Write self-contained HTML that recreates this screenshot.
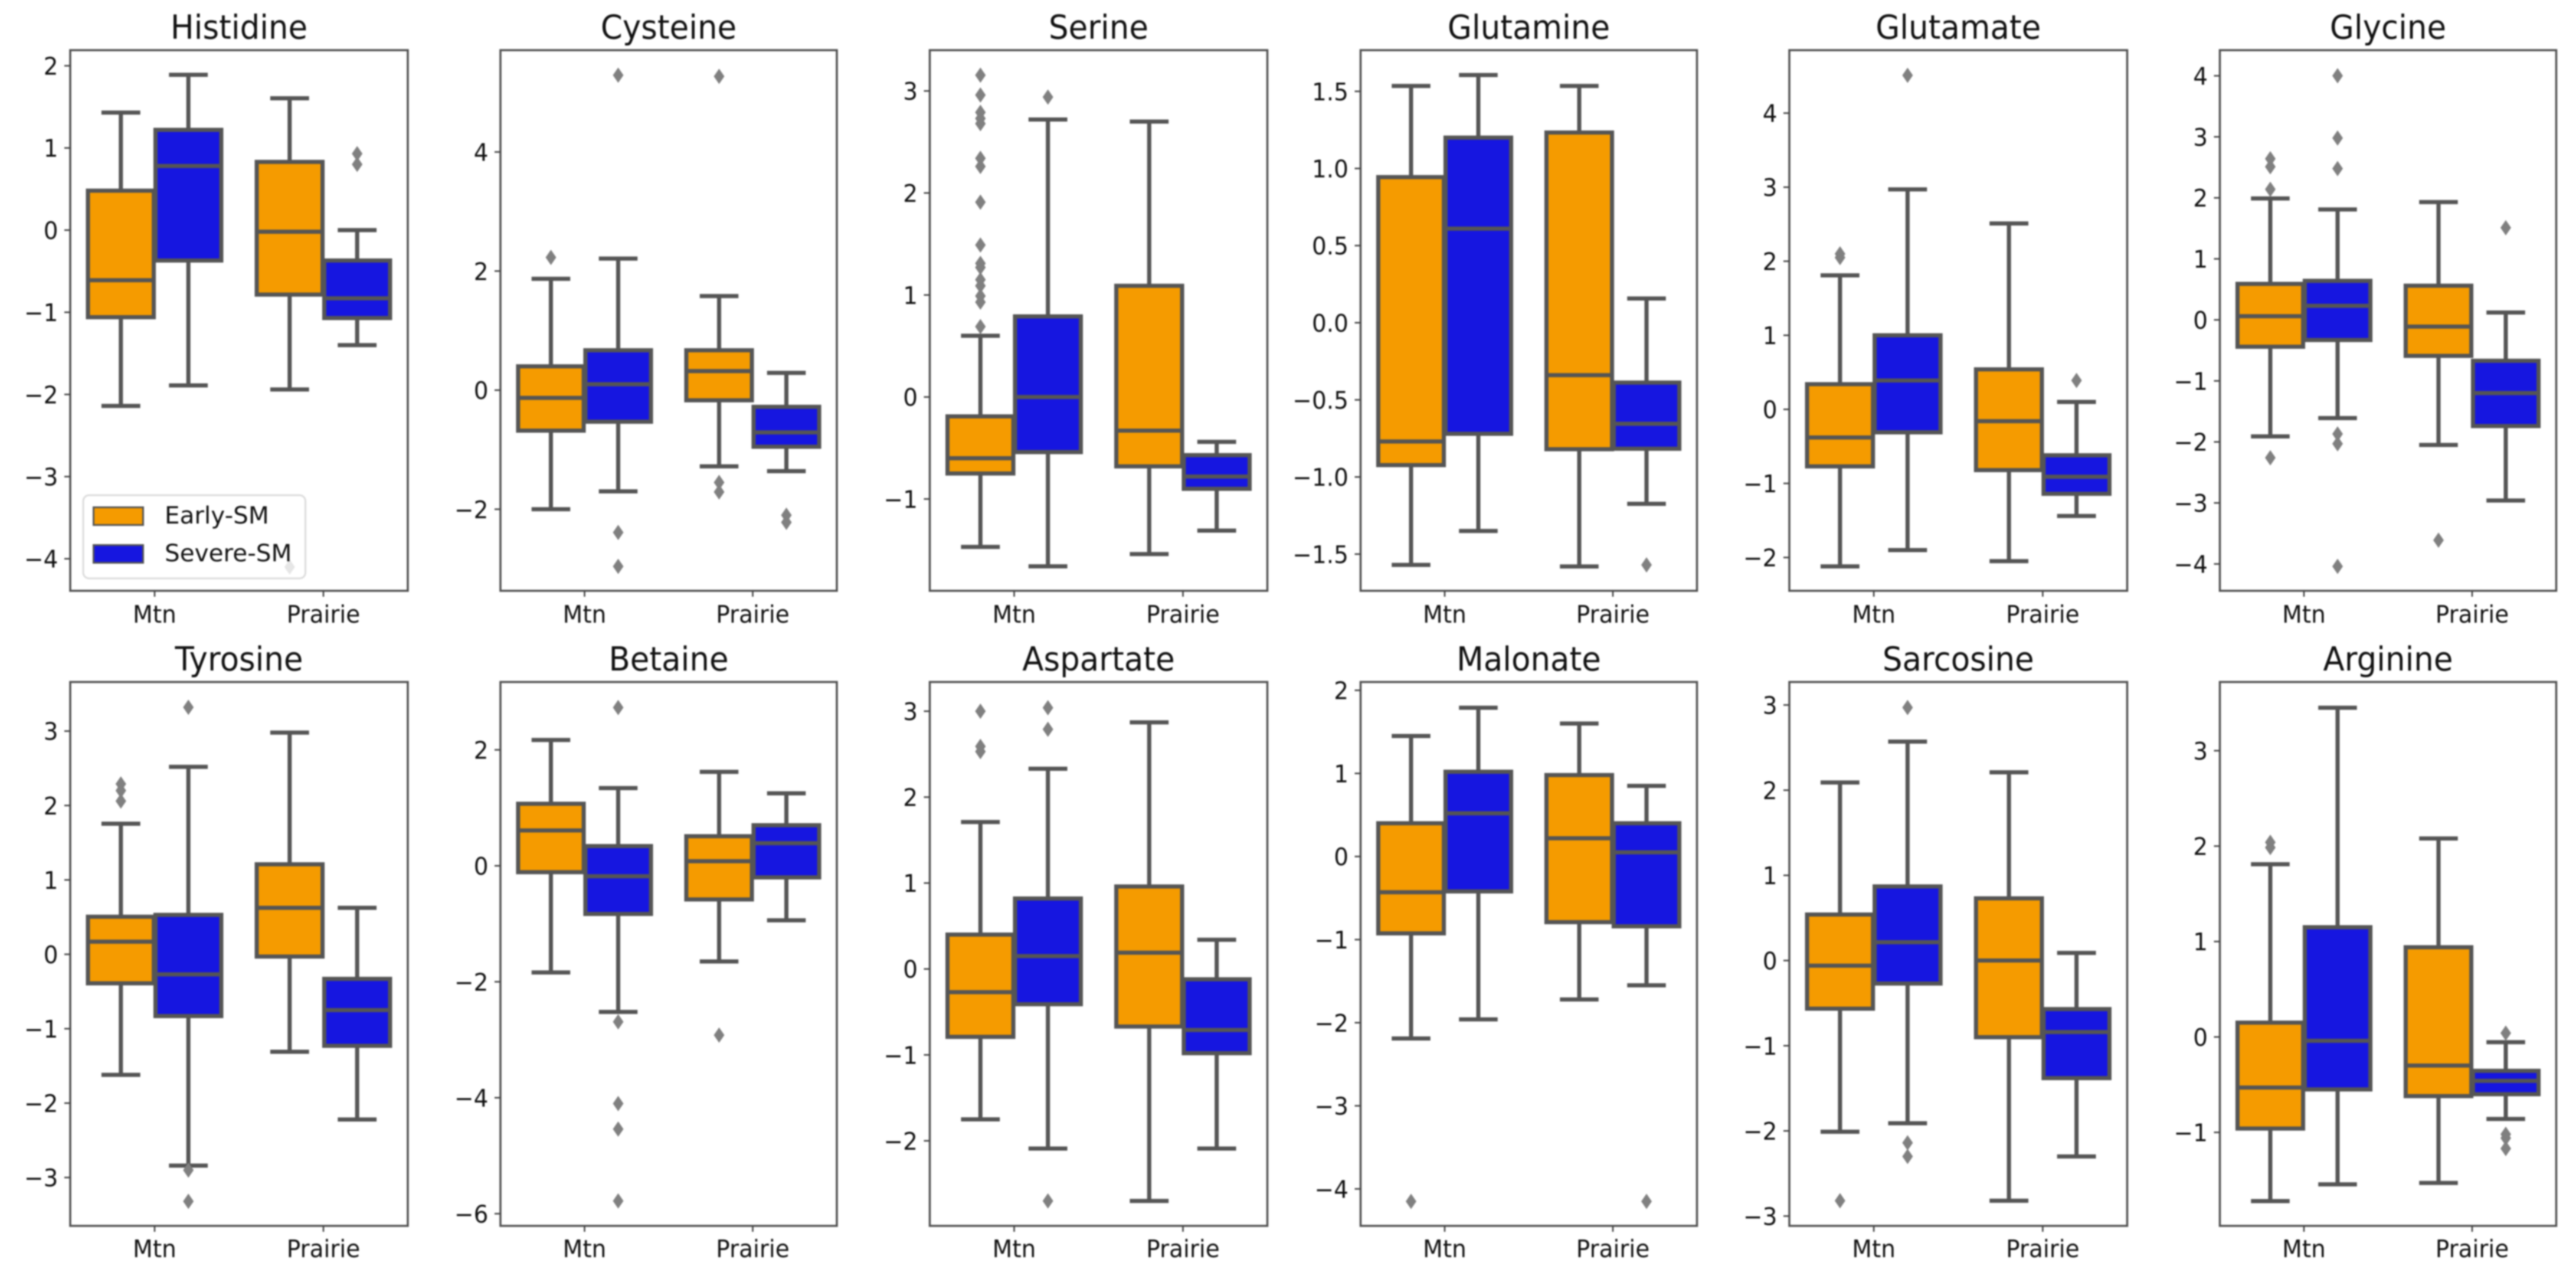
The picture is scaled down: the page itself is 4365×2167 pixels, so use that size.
<!DOCTYPE html>
<html lang="en">
<head>
<meta charset="utf-8">
<title>Metabolite box plots</title>
<style>
html,body{margin:0;padding:0;background:#fff;}
body{width:4365px;height:2167px;overflow:hidden;}
svg{display:block;filter:blur(1.2px);}
text{font-family:"DejaVu Sans","Liberation Sans",sans-serif;fill:#111;}
</style>
</head>
<body>
<svg id="chart" xmlns="http://www.w3.org/2000/svg" width="4365" height="2167" viewBox="0 0 4365 2167"></svg>
<script>
// Each inner row order: [Mtn Early-SM, Mtn Severe-SM, Prairie Early-SM, Prairie Severe-SM]
const metabolites = ["Histidine","Cysteine","Serine","Glutamine","Glutamate","Glycine","Tyrosine","Betaine","Aspartate","Malonate","Sarcosine","Arginine"];
const categories = ["Mtn","Prairie"];
const hues = ["Early-SM","Severe-SM"];
const yLimits = [[-4.39,2.19],[-3.37,5.71],[-1.90,3.40],[-1.738,1.767],[-2.45,4.85],[-4.44,4.42],[-3.65,3.66],[-6.21,3.17],[-2.99,3.34],[-4.445,2.10],[-3.115,3.27],[-1.98,3.72]];
const yTicks = [[-4,-3,-2,-1,0,1,2],[-2,0,2,4],[-1,0,1,2,3],[-1.5,-1,-0.5,0,0.5,1,1.5],[-2,-1,0,1,2,3,4],[-4,-3,-2,-1,0,1,2,3,4],[-3,-2,-1,0,1,2,3],[-6,-4,-2,0,2],[-2,-1,0,1,2,3],[-4,-3,-2,-1,0,1,2],[-3,-2,-1,0,1,2,3],[-1,0,1,2,3]];
const whiskerHigh = [[1.43,1.89,1.605,0],[1.87,2.21,1.58,0.29],[0.60,2.72,2.70,-0.44],[1.535,1.606,1.535,0.157],[1.81,2.97,2.51,0.10],[1.99,1.81,1.93,0.12],[1.755,2.52,2.98,0.625],[2.17,1.34,1.62,1.25],[1.71,2.33,2.87,0.34],[1.45,1.79,1.60,0.85],[2.09,2.57,2.21,0.09],[1.81,3.45,2.08,-0.055]];
const q3Values = [[0.48,1.22,0.83,-0.37],[0.40,0.67,0.67,-0.28],[-0.19,0.79,1.09,-0.57],[0.944,1.20,1.233,-0.388],[0.34,1.0,0.54,-0.62],[0.59,0.64,0.56,-0.67],[0.505,0.53,1.21,-0.33],[1.07,0.34,0.51,0.70],[0.40,0.82,0.96,-0.12],[0.40,1.02,0.98,0.40],[0.54,0.87,0.73,-0.57],[0.15,1.15,0.94,-0.355]];
const medians = [[-0.61,0.78,-0.02,-0.83],[-0.13,0.10,0.32,-0.71],[-0.60,0,-0.33,-0.78],[-0.77,0.61,-0.34,-0.655],[-0.38,0.39,-0.16,-0.91],[0.06,0.23,-0.11,-1.20],[0.17,-0.27,0.625,-0.75],[0.61,-0.18,0.08,0.39],[-0.27,0.15,0.19,-0.71],[-0.43,0.52,0.22,0.05],[-0.06,0.215,0,-0.84],[-0.53,-0.04,-0.30,-0.46]];
const q1Values = [[-1.06,-0.37,-0.785,-1.07],[-0.68,-0.53,-0.17,-0.95],[-0.75,-0.54,-0.68,-0.90],[-0.923,-0.72,-0.82,-0.817],[-0.77,-0.31,-0.82,-1.14],[-0.44,-0.33,-0.59,-1.74],[-0.39,-0.83,-0.03,-1.23],[-0.11,-0.83,-0.58,-0.20],[-0.79,-0.41,-0.67,-0.98],[-0.925,-0.42,-0.79,-0.84],[-0.565,-0.27,-0.90,-1.38],[-0.96,-0.55,-0.62,-0.60]];
const whiskerLow = [[-2.14,-1.89,-1.94,-1.40],[-2.0,-1.70,-1.28,-1.36],[-1.47,-1.66,-1.54,-1.31],[-1.57,-1.35,-1.58,-1.174],[-2.12,-1.90,-2.05,-1.44],[-1.91,-1.61,-2.05,-2.96],[-1.62,-2.84,-1.31,-2.22],[-1.84,-2.52,-1.65,-0.94],[-1.75,-2.09,-2.70,-2.09],[-2.19,-1.96,-1.72,-1.55],[-2.01,-1.91,-2.82,-2.30],[-1.72,-1.545,-1.53,-0.86]];
const outliers = [
  [[],[],[-4.10],[0.93,0.80]],
  [[2.23],[5.29,-2.39,-2.96],[5.27,-1.55,-1.71],[-2.10,-2.22]],
  [[3.155,2.96,2.79,2.73,2.68,2.34,2.26,1.91,1.49,1.31,1.27,1.15,1.09,0.99,0.93,0.69],[2.94],[],[]],
  [[],[],[],[-1.57]],
  [[2.10,2.05],[4.51],[],[0.39]],
  [[2.64,2.51,2.14,-2.26],[4.0,2.98,2.48,-1.87,-2.03,-4.04],[-3.61],[1.51]],
  [[2.29,2.2,2.06],[3.32,-2.90,-3.32],[],[]],
  [[],[2.73,-2.69,-4.10,-4.54,-5.78],[-2.92],[]],
  [[3.0,2.59,2.53],[3.04,2.79,-2.70],[],[]],
  [[-4.15],[],[],[-4.15]],
  [[-2.82],[2.97,-2.14,-2.30],[],[]],
  [[2.04,1.985],[],[],[0.04,-1.02,-1.06,-1.17]]
];

const NS = "http://www.w3.org/2000/svg";
const svg = document.getElementById("chart");
const colEarly = "#f59b00", colSevere = "#1616e0", lineCol = "#555555", frameCol = "#525252", flierCol = "#808080";
const panelLeft = [119, 848, 1575.5, 2305.5, 3032, 3761.5];
const panelRight = [691, 1418, 2147.5, 2875.5, 3604.5, 4331.5];
const rowTop = [85, 1155.5];
const rowBottom = [1001, 2077];
const titleBase = [65.5, 1136];
const catBase = [1055, 2130];
const textStretch = 1.055;

function mk(tag, parent, props, txt) {
  const e = document.createElementNS(NS, tag);
  for (const k in props) e.setAttribute(k, props[k]);
  if (txt !== undefined) e.textContent = txt;
  parent.appendChild(e);
  return e;
}
function mkText(parent, x, y, anchor, size, txt) {
  return mk("text", parent, {x: 0, y: 0, transform: `translate(${x},${y}) scale(1,${textStretch})`, "text-anchor": anchor, "font-size": size}, txt);
}
function tickText(v, ticks) {
  const dec = ticks.some(t => !Number.isInteger(t)) ? 1 : 0;
  const s = Math.abs(v).toFixed(dec);
  return (v < 0 ? "\u2212" : "") + s;
}

metabolites.forEach((name, p) => {
  const col = p % 6, row = Math.floor(p / 6);
  const L = panelLeft[col], R = panelRight[col], T = rowTop[row], B = rowBottom[row];
  const [y0, y1] = yLimits[p];
  const xs = v => L + (v + 0.5) / 2 * (R - L);
  const ys = v => B - (v - y0) / (y1 - y0) * (B - T);
  const unit = (R - L) / 2;

  const g = mk("g", svg, {});
  
  

  const bg = mk("rect", g, {x: L, y: T, width: R - L, height: B - T, fill: "#fff"});
  
  

  for (let i = 0; i < 4; i++) {
    const cat = Math.floor(i / 2), hue = i % 2;
    const cx = xs(cat + (hue === 0 ? -0.2 : 0.2));
    const b = mk("g", g, {});
    
    

    const hw = 0.195 * unit, cw = 0.115 * unit;
    const ln = {stroke: lineCol, "stroke-width": 7};
    const wu = mk("line", b, Object.assign({x1: cx, x2: cx, y1: ys(whiskerHigh[p][i]), y2: ys(q3Values[p][i])}, ln));
    
    
    const wl = mk("line", b, Object.assign({x1: cx, x2: cx, y1: ys(q1Values[p][i]), y2: ys(whiskerLow[p][i])}, ln));
    
    
    const cu = mk("line", b, Object.assign({x1: cx - cw, x2: cx + cw, y1: ys(whiskerHigh[p][i]), y2: ys(whiskerHigh[p][i])}, ln));
    
    
    const cl = mk("line", b, Object.assign({x1: cx - cw, x2: cx + cw, y1: ys(whiskerLow[p][i]), y2: ys(whiskerLow[p][i])}, ln));
    
    

    const top = ys(q3Values[p][i]), bot = ys(q1Values[p][i]);
    const r = mk("rect", b, {x: cx - hw, y: top, width: 2 * hw, height: bot - top, fill: hue === 0 ? colEarly : colSevere, stroke: lineCol, "stroke-width": 7});
    
    
    const m = mk("line", b, Object.assign({x1: cx - hw, x2: cx + hw, y1: ys(medians[p][i]), y2: ys(medians[p][i])}, ln));
    
    

    outliers[p][i].forEach(v => {
      const y = ys(v);
      const d = mk("polygon", b, {points: `${cx},${y - 13} ${cx + 9},${y} ${cx},${y + 13} ${cx - 9},${y}`, fill: flierCol});
      
      
    });
  }

  const frame = mk("rect", g, {x: L, y: T, width: R - L, height: B - T, fill: "none", stroke: frameCol, "stroke-width": 3.5});
  
  

  yTicks[p].forEach(v => {
    const y = ys(v);
    const t = mk("line", g, {x1: L - 10, x2: L, y1: y, y2: y, stroke: "#444", "stroke-width": 2.6});
    
    
    const lab = mkText(g, L - 20.5, y + 15, "end", 39, tickText(v, yTicks[p]));
    
    
  });

  categories.forEach((c, i) => {
    const x = xs(i);
    const t = mk("line", g, {x1: x, x2: x, y1: B, y2: B + 10, stroke: "#444", "stroke-width": 2.6});
    
    
    const lab = mkText(g, x, catBase[row], "middle", 39, c);
    
    
  });

  const title = mkText(g, (L + R) / 2, titleBase[row], "middle", 53, name);
  
  

  if (p === 0) {
    const lg = mk("g", g, {});
    
    
    const box = mk("rect", lg, {x: 141, y: 839, width: 376.5, height: 141, rx: 10, ry: 10, fill: "#fff", "fill-opacity": 0.8, stroke: "#dcdcdc", "stroke-width": 3});
    
    
    hues.forEach((h, i) => {
      const e = mk("g", lg, {});
      
      
      const sw = mk("rect", e, {x: 158.5, y: 859.5 + i * 64, width: 84, height: 30, fill: i === 0 ? colEarly : colSevere, stroke: lineCol, "stroke-width": 3});
      
      
      const tx = mk("text", e, {x: 279, y: 887 + i * 64, "font-size": 40.5}, h);
      
      
    });
  }
});
</script>
</body>
</html>
